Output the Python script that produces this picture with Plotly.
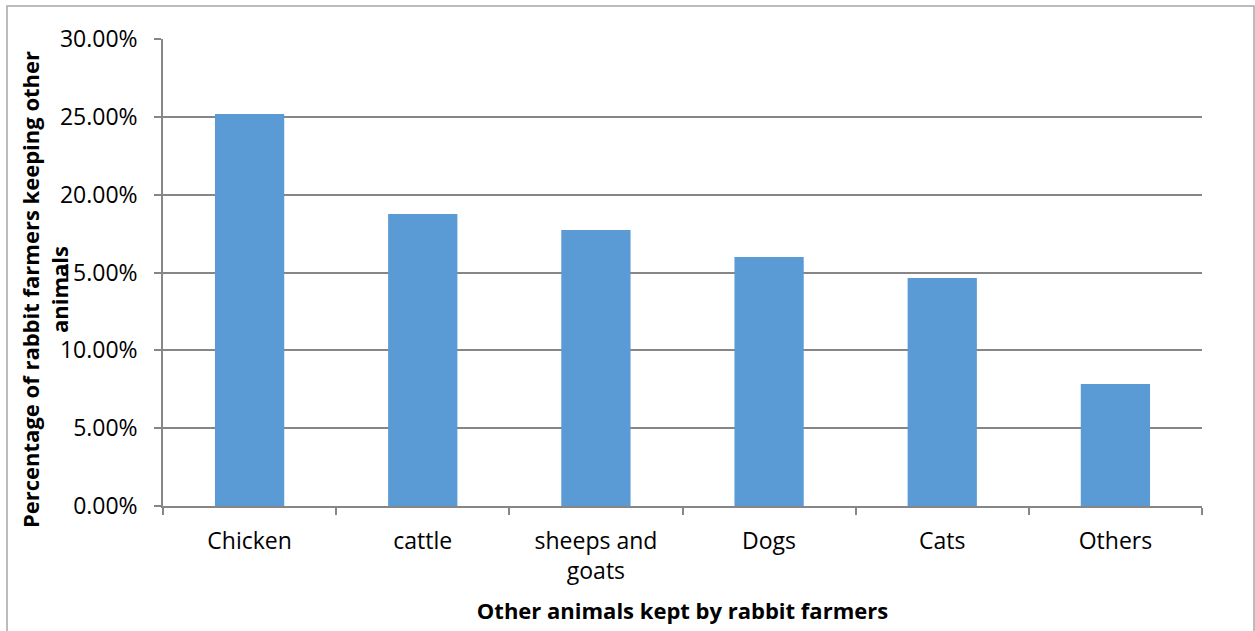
import plotly.graph_objects as go

categories = ["Chicken", "cattle", "sheeps and<br>goats", "Dogs", "Cats", "Others"]
percentages = [25.18, 18.76, 17.73, 15.99, 14.65, 7.84]
y_ticks = [0, 5, 10, 15, 20, 25, 30]
y_tick_labels = ["0.00%", "5.00%", "10.00%", "15.00%", "20.00%", "25.00%", "30.00%"]

FONT = "Open Sans"

fig = go.Figure()
fig.add_trace(go.Bar(
    x=categories, y=percentages,
    marker=dict(color="#5B9BD5", line=dict(width=0)),
    width=0.4,
))

L, R, T, B = 163, 53, 39, 125
W, H = 1255, 631
pw, ph = W - L - R, H - T - B

fig.update_layout(
    width=W, height=H,
    margin=dict(l=L, r=R, t=T, b=B),
    paper_bgcolor="white", plot_bgcolor="white",
    showlegend=False,
    font=dict(family=FONT, size=23, color="#000000"),
    xaxis=dict(
        showline=True, linecolor="#868686", linewidth=1.5,
        ticks="outside", tickson="boundaries", ticklen=7, tickcolor="#868686", tickwidth=1.5,
        tickfont=dict(family=FONT, size=23, color="#000"),
        ticklabelstandoff=14,
        showgrid=False,
        title=dict(text="<b>Other animals kept by rabbit farmers</b>",
                   font=dict(family=FONT, size=22, color="#000"), standoff=18),
    ),
    yaxis=dict(
        range=[0, 30],
        tickvals=y_ticks, ticktext=y_tick_labels,
        showline=True, linecolor="#868686", linewidth=1.5,
        ticks="outside", ticklen=7, tickcolor="#868686", tickwidth=1.5,
        showgrid=True, gridcolor="#868686", gridwidth=1.5,
        tickfont=dict(family=FONT, size=23, color="#000"),
        ticklabelstandoff=12,
        zeroline=False,
    ),
    annotations=[dict(
        text="<b>Percentage of rabbit farmers keeping other<br>animals</b>",
        xref="paper", yref="paper",
        x=(44 - L) / pw, y=(506 - 290) / ph, xanchor="center", yanchor="middle",
        textangle=-90, showarrow=False, align="center",
        font=dict(family=FONT, size=22, color="#000"),
    )],
    shapes=[dict(
        type="rect", xref="paper", yref="paper",
        x0=(7 - L) / pw, x1=(1254 - L) / pw,
        y0=-(H + 20 - T - ph) / ph, y1=1 + (T - 6) / ph,
        line=dict(color="#A6A6A6", width=1.5), fillcolor="rgba(0,0,0,0)",
        layer="below",
    )],
)

fig.write_html("out.html")
